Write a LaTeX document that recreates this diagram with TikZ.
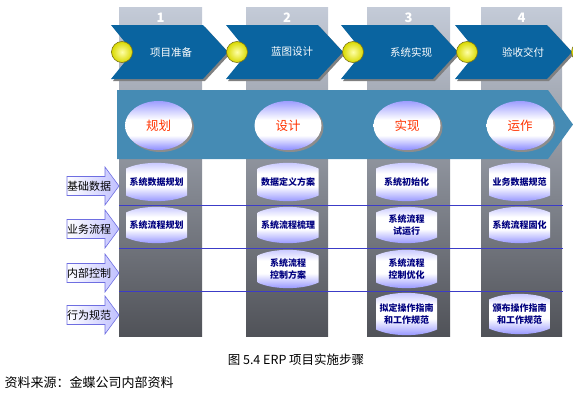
\documentclass[tikz,border=0pt]{standalone}
\usepackage{fontspec}
\setmainfont{Noto Sans CJK SC}
\usetikzlibrary{shapes.geometric,shadows}

\definecolor{colTop}{RGB}{196,203,216}
\definecolor{colBot}{RGB}{80,82,88}
\definecolor{chevblue}{RGB}{10,100,160}
\definecolor{bandblue}{RGB}{69,139,180}
\definecolor{lav}{RGB}{140,140,255}
\definecolor{phasered}{RGB}{255,51,0}
\definecolor{cellblue}{RGB}{0,0,128}
\definecolor{rowline}{RGB}{60,60,200}
\definecolor{arrowline}{RGB}{110,110,225}
\pgfdeclareverticalshading{phaseshade}{100bp}{color(0bp)=(lav); color(25bp)=(lav);
  color(40bp)=(white); color(56bp)=(white); color(75bp)=(lav!85!white); color(100bp)=(lav!85!white)}
\pgfdeclareverticalshading{cellshade}{100bp}{color(0bp)=(lav); color(25bp)=(lav);
  color(45bp)=(white); color(60bp)=(white); color(75bp)=(lav!55!white); color(100bp)=(lav!55!white)}

\begin{document}
\begin{tikzpicture}[x=1pt,y=-1pt,
  stepnum/.style={font=\bfseries\fontsize{13}{13}\selectfont,text=white},
  stagetext/.style={font=\fontsize{10.5}{12}\selectfont,text=white},
  phase/.style={ellipse,inner sep=0pt,minimum width=67pt,minimum height=49pt,
    shading=phaseshade,
    drop shadow={shadow xshift=2pt,shadow yshift=-2pt,fill=black!45,opacity=1},
    font=\fontsize{12.5}{14}\selectfont,text=phasered},
  rowtext/.style={font=\fontsize{11}{12}\selectfont},
  celltext/.style={font=\bfseries\fontsize{9}{12}\selectfont,text=cellblue,align=center},
  cellfill/.style={shading=cellshade},
  rowarrow/.style={left color=white,right color=lav!55!white,draw=arrowline,line width=0.6pt},
  ball/.style={inner color=yellow!35!white,outer color=yellow!85!black,draw=olive!80!black,line width=0.6pt}]
  \useasboundingbox (0,0) rectangle (573,410);

  % gray columns
  \foreach \l/\r in {119/202,246/328,367/450,481/562}
    \shade[top color=colTop,bottom color=colBot] (\l,7) rectangle (\r,336);
  \node[stepnum] (n1) at (160.5,18) {1};
  \node[stepnum] (n2) at (287,18) {2};
  \node[stepnum] (n3) at (408.5,18) {3};
  \node[stepnum] (n4) at (521.5,18) {4};

  % stage chevrons
  \foreach \l in {111,226,341,455} {
    \fill[black!50,shift={(2,2)}] (\l,25) -- ++(92,0) -- ++(25,27) -- ++(-25,27) -- ++(-92,0) -- ++(22,-27) -- cycle;
    \fill[chevblue] (\l,25) -- ++(92,0) -- ++(25,27) -- ++(-25,27) -- ++(-92,0) -- ++(22,-27) -- cycle;
  }
  \foreach \x in {122,237,353,467,582}
    \shade[ball] (\x,52) circle (10.5);
  \node[stagetext] (s1) at (171,52) {项目准备};
  \node[stagetext] (s2) at (292,52) {蓝图设计};
  \node[stagetext] (s3) at (411,52) {系统实现};
  \node[stagetext] (s4) at (523,52) {验收交付};

  % phase band
  \fill[bandblue] (117,90) -- (548,90) -- (573,124.5) -- (548,159) -- (117,159) -- cycle;
  \node[phase] (p1) at (158.5,125.5) {规划};
  \node[phase] (p2) at (288,125.5) {设计};
  \node[phase] (p3) at (407,125.5) {实现};
  \node[phase] (p4) at (520,125.5) {运作};

  % rows
  \foreach \y in {205,248,291}
    \draw[rowline,line width=0.7pt] (119,\y) -- (563,\y);
  \foreach \cy/\txt [count=\i] in {186/基础数据,229/业务流程,273/内部控制,315/行为规范} {
    \shade[rowarrow] (67,\cy-9.5) -- (105,\cy-9.5) -- (105,\cy-19) -- (119,\cy)
      -- (105,\cy+19) -- (105,\cy+9.5) -- (67,\cy+9.5) -- cycle;
    \node[rowtext] (r\i) at (89,\cy) {\txt};
  }

  % cells
  \foreach \cx/\cy/\h/\txt [count=\i] in {
      156.5/182/19/{系统数据规划}, 156.5/225/18/{系统流程规划},
      288/182/19/{数据定义方案}, 288/225/18/{系统流程梳理}, 288/269/19/{系统流程\\控制方案},
      406.5/182/19/{系统初始化}, 406.5/225/18/{系统流程\\试运行},
      406.5/269/19/{系统流程\\控制优化}, 406.5/314/21/{拟定操作指南\\和工作规范},
      519.5/182/19/{业务数据规范}, 519.5/225/18/{系统流程固化},
      519.5/314/20/{颁布操作指南\\和工作规范}} {
    \shade[cellfill] ({\cx-30.5},{\cy-\h+5.5})
      .. controls ({\cx-15},{\cy-\h-2}) and ({\cx+15},{\cy-\h-2}) .. ({\cx+30.5},{\cy-\h+5.5})
      -- ({\cx+30.5},{\cy+\h-5.5})
      .. controls ({\cx+15},{\cy+\h+2}) and ({\cx-15},{\cy+\h+2}) .. ({\cx-30.5},{\cy+\h-5.5}) -- cycle;
    \node[celltext] (c\i) at (\cx,\cy) {\txt};
  }

  % caption
  \node[font=\fontsize{12.5}{14}\selectfont] (cap) at (296,360) {图 5.4 ERP 项目实施步骤};
  \node[font=\fontsize{13}{14}\selectfont,anchor=west] (src) at (1,383) {资料来源：金蝶公司内部资料};
\end{tikzpicture}
\end{document}
